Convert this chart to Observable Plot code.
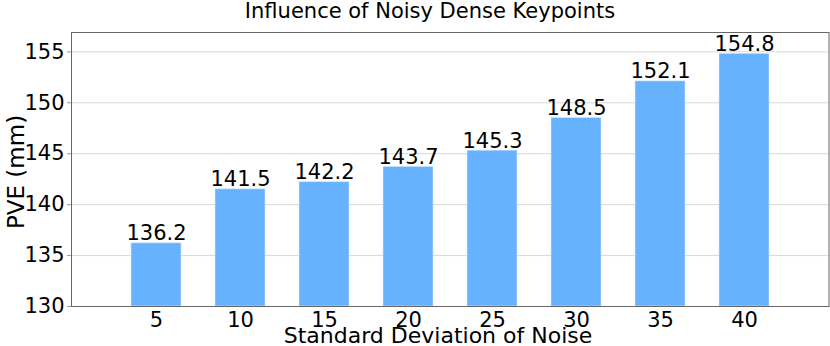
<!DOCTYPE html>
<html>
<head>
<meta charset="utf-8">
<script src="https://cdn.jsdelivr.net/npm/d3@7"></script>
<script src="https://cdn.jsdelivr.net/npm/@observablehq/plot@0.6"></script>
<style>
  html, body { margin: 0; padding: 0; background: #fff; }
  #chart { width: 830px; height: 346px; }
  svg { font-family: "DejaVu Sans", sans-serif; }
</style>
</head>
<body>
<div id="chart"></div>
<script>
const noiseLevels = [5, 10, 15, 20, 25, 30, 35, 40];
const pveValues = [136.2, 141.5, 142.2, 143.7, 145.3, 148.5, 152.1, 154.8];
const yTicks = [130, 135, 140, 145, 150, 155];
const titleText = "Influence of Noisy Dense Keypoints";
const xLabel = "Standard Deviation of Noise";
const yLabel = "PVE (mm)";

const data = noiseLevels.map((n, i) => ({noise: String(n), pve: pveValues[i]}));

const plot = Plot.plot({
  width: 830,
  height: 346,
  marginTop: 32,
  marginBottom: 40,
  marginLeft: 71,
  marginRight: 1.5,
  style: {fontFamily: "DejaVu Sans, sans-serif", background: "#fff", color: "#000"},
  x: {
    domain: noiseLevels.map(String),
    paddingInner: 0.4,
    paddingOuter: 0.7,
    label: null
  },
  y: {
    domain: [130, 156.9],
    label: null
  },
  marks: [
    Plot.gridY(yTicks, {stroke: "#d9d9d9", strokeOpacity: 1, strokeWidth: 1}),
    Plot.barY(data, {x: "noise", y1: 130, y2: "pve", fill: "#66b2ff", stroke: "#cfe6ff", strokeWidth: 0.6}),
    Plot.text(data, {x: "noise", y: "pve", text: d => d.pve.toFixed(1), lineAnchor: "bottom", dy: -3, fontSize: 21, fill: "#000"}),
    Plot.axisY(yTicks, {tickSize: 4, tickPadding: 3, fontSize: 21, stroke: "#999", fill: "#000", label: null, tickFormat: d => String(d)}),
    Plot.axisX({tickSize: 0, tickPadding: 6, fontSize: 21, fill: "#000", label: null}),
    Plot.frame({stroke: "#666", strokeWidth: 1})
  ]
});

const svg = d3.select(plot);
svg.append("text")
  .attr("x", 430).attr("y", 18)
  .attr("text-anchor", "middle")
  .attr("font-size", 21)
  .attr("fill", "#000")
  .text(titleText);
svg.append("text")
  .attr("x", 438).attr("y", 342.5)
  .attr("text-anchor", "middle")
  .attr("font-size", 22)
  .attr("fill", "#000")
  .text(xLabel);
svg.append("text")
  .attr("transform", "translate(24,172) rotate(-90)")
  .attr("text-anchor", "middle")
  .attr("font-size", 23)
  .attr("fill", "#000")
  .text(yLabel);

document.getElementById("chart").appendChild(plot);
</script>
</body>
</html>
